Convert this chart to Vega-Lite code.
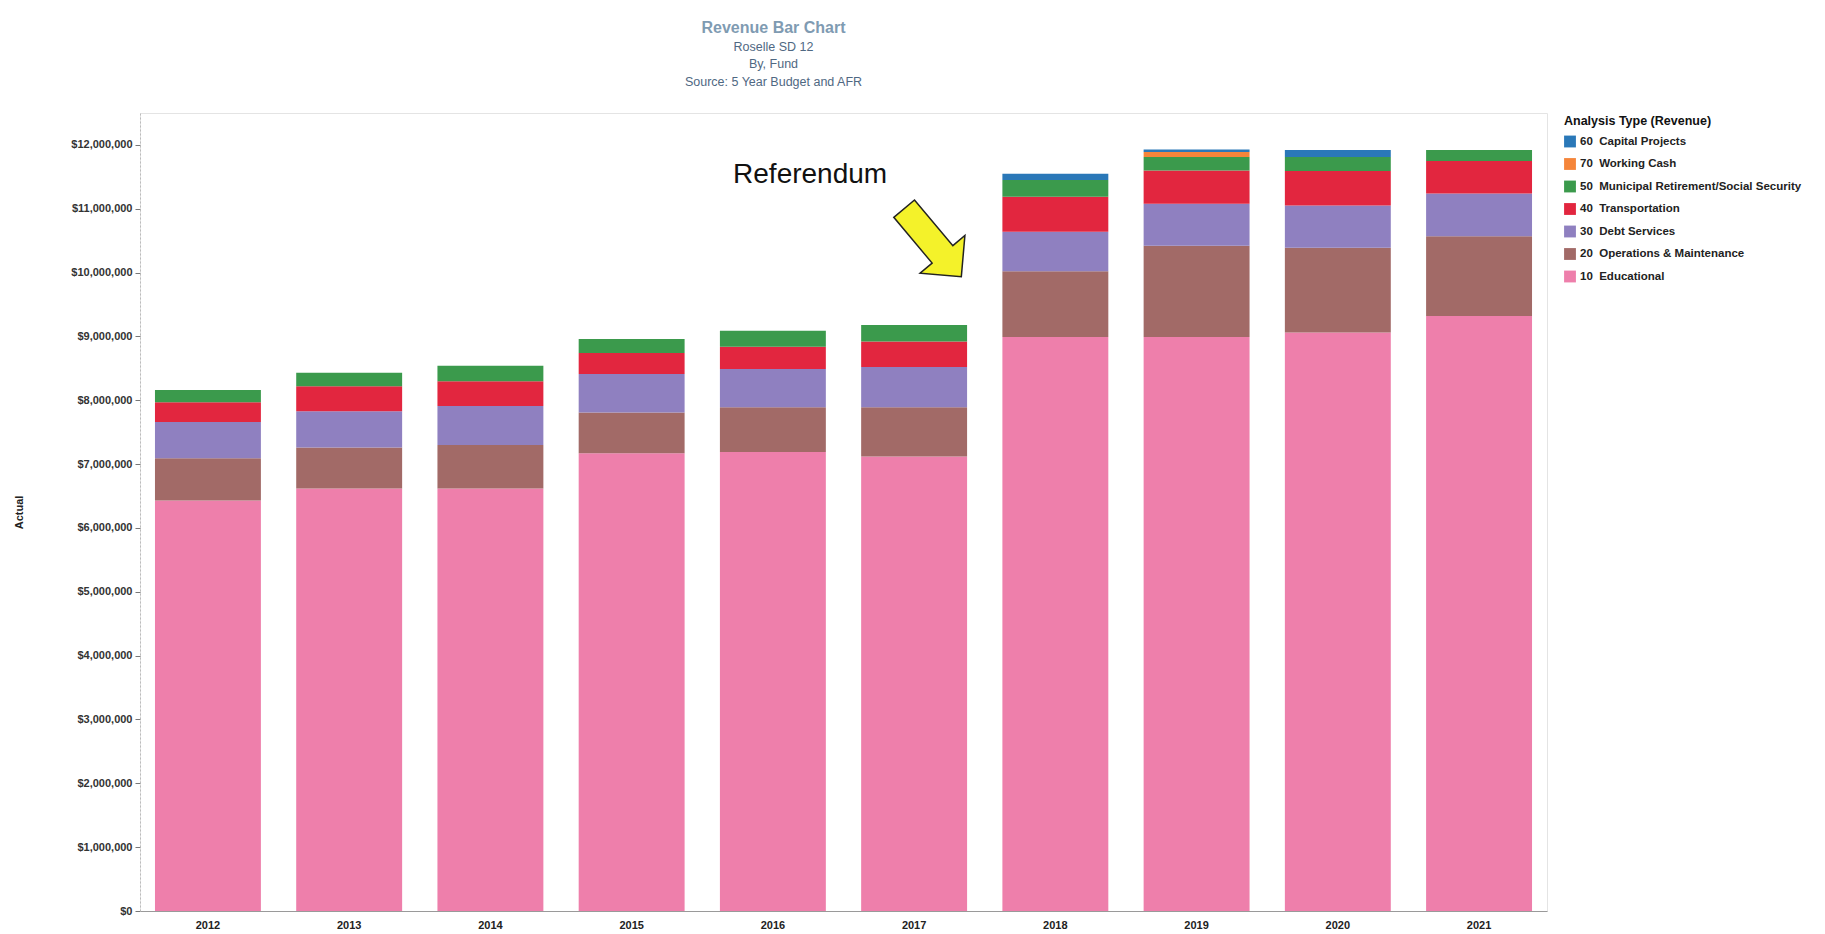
{
  "$schema": "https://vega.github.io/schema/vega-lite/v6.json",
  "autosize": {"type": "none"},
  "width": 1407,
  "height": 798,
  "padding": {"left": 140, "top": 113, "right": 278, "bottom": 23},
  "background": "white",
  "title": {
    "text": "Revenue Bar Chart",
    "subtitle": ["Roselle SD 12", "By, Fund", "Source: 5 Year Budget and AFR"],
    "anchor": "middle",
    "frame": "group",
    "dx": -70,
    "offset": 25,
    "font": "Liberation Sans",
    "fontSize": 16,
    "fontWeight": "bold",
    "color": "#7f9bb2",
    "subtitleFont": "Liberation Sans",
    "subtitleFontSize": 12.5,
    "subtitleColor": "#4f6882",
    "subtitleLineHeight": 17.5,
    "subtitlePadding": 5
  },
  "config": {
    "view": {"stroke": "#e4e4e4"},
    "font": "Liberation Sans"
  },
  "datasets": {
    "revenue": [
      {"year": "2012", "code": 10, "fund": "10\u00a0\u00a0Educational", "value": 6430000},
      {"year": "2012", "code": 20, "fund": "20\u00a0\u00a0Operations & Maintenance", "value": 660000},
      {"year": "2012", "code": 30, "fund": "30\u00a0\u00a0Debt Services", "value": 570000},
      {"year": "2012", "code": 40, "fund": "40\u00a0\u00a0Transportation", "value": 310000},
      {"year": "2012", "code": 50, "fund": "50\u00a0\u00a0Municipal Retirement/Social Security", "value": 190000},
      {"year": "2013", "code": 10, "fund": "10\u00a0\u00a0Educational", "value": 6620000},
      {"year": "2013", "code": 20, "fund": "20\u00a0\u00a0Operations & Maintenance", "value": 640000},
      {"year": "2013", "code": 30, "fund": "30\u00a0\u00a0Debt Services", "value": 570000},
      {"year": "2013", "code": 40, "fund": "40\u00a0\u00a0Transportation", "value": 390000},
      {"year": "2013", "code": 50, "fund": "50\u00a0\u00a0Municipal Retirement/Social Security", "value": 210000},
      {"year": "2014", "code": 10, "fund": "10\u00a0\u00a0Educational", "value": 6620000},
      {"year": "2014", "code": 20, "fund": "20\u00a0\u00a0Operations & Maintenance", "value": 680000},
      {"year": "2014", "code": 30, "fund": "30\u00a0\u00a0Debt Services", "value": 610000},
      {"year": "2014", "code": 40, "fund": "40\u00a0\u00a0Transportation", "value": 390000},
      {"year": "2014", "code": 50, "fund": "50\u00a0\u00a0Municipal Retirement/Social Security", "value": 240000},
      {"year": "2015", "code": 10, "fund": "10\u00a0\u00a0Educational", "value": 7170000},
      {"year": "2015", "code": 20, "fund": "20\u00a0\u00a0Operations & Maintenance", "value": 640000},
      {"year": "2015", "code": 30, "fund": "30\u00a0\u00a0Debt Services", "value": 600000},
      {"year": "2015", "code": 40, "fund": "40\u00a0\u00a0Transportation", "value": 330000},
      {"year": "2015", "code": 50, "fund": "50\u00a0\u00a0Municipal Retirement/Social Security", "value": 220000},
      {"year": "2016", "code": 10, "fund": "10\u00a0\u00a0Educational", "value": 7190000},
      {"year": "2016", "code": 20, "fund": "20\u00a0\u00a0Operations & Maintenance", "value": 700000},
      {"year": "2016", "code": 30, "fund": "30\u00a0\u00a0Debt Services", "value": 600000},
      {"year": "2016", "code": 40, "fund": "40\u00a0\u00a0Transportation", "value": 350000},
      {"year": "2016", "code": 50, "fund": "50\u00a0\u00a0Municipal Retirement/Social Security", "value": 250000},
      {"year": "2017", "code": 10, "fund": "10\u00a0\u00a0Educational", "value": 7120000},
      {"year": "2017", "code": 20, "fund": "20\u00a0\u00a0Operations & Maintenance", "value": 770000},
      {"year": "2017", "code": 30, "fund": "30\u00a0\u00a0Debt Services", "value": 630000},
      {"year": "2017", "code": 40, "fund": "40\u00a0\u00a0Transportation", "value": 400000},
      {"year": "2017", "code": 50, "fund": "50\u00a0\u00a0Municipal Retirement/Social Security", "value": 260000},
      {"year": "2018", "code": 10, "fund": "10\u00a0\u00a0Educational", "value": 8990000},
      {"year": "2018", "code": 20, "fund": "20\u00a0\u00a0Operations & Maintenance", "value": 1030000},
      {"year": "2018", "code": 30, "fund": "30\u00a0\u00a0Debt Services", "value": 620000},
      {"year": "2018", "code": 40, "fund": "40\u00a0\u00a0Transportation", "value": 550000},
      {"year": "2018", "code": 50, "fund": "50\u00a0\u00a0Municipal Retirement/Social Security", "value": 260000},
      {"year": "2018", "code": 60, "fund": "60\u00a0\u00a0Capital Projects", "value": 100000},
      {"year": "2019", "code": 10, "fund": "10\u00a0\u00a0Educational", "value": 8990000},
      {"year": "2019", "code": 20, "fund": "20\u00a0\u00a0Operations & Maintenance", "value": 1430000},
      {"year": "2019", "code": 30, "fund": "30\u00a0\u00a0Debt Services", "value": 660000},
      {"year": "2019", "code": 40, "fund": "40\u00a0\u00a0Transportation", "value": 520000},
      {"year": "2019", "code": 50, "fund": "50\u00a0\u00a0Municipal Retirement/Social Security", "value": 210000},
      {"year": "2019", "code": 55, "fund": "70\u00a0\u00a0Working Cash", "value": 80000},
      {"year": "2019", "code": 60, "fund": "60\u00a0\u00a0Capital Projects", "value": 40000},
      {"year": "2020", "code": 10, "fund": "10\u00a0\u00a0Educational", "value": 9060000},
      {"year": "2020", "code": 20, "fund": "20\u00a0\u00a0Operations & Maintenance", "value": 1330000},
      {"year": "2020", "code": 30, "fund": "30\u00a0\u00a0Debt Services", "value": 660000},
      {"year": "2020", "code": 40, "fund": "40\u00a0\u00a0Transportation", "value": 540000},
      {"year": "2020", "code": 50, "fund": "50\u00a0\u00a0Municipal Retirement/Social Security", "value": 220000},
      {"year": "2020", "code": 60, "fund": "60\u00a0\u00a0Capital Projects", "value": 110000},
      {"year": "2021", "code": 10, "fund": "10\u00a0\u00a0Educational", "value": 9320000},
      {"year": "2021", "code": 20, "fund": "20\u00a0\u00a0Operations & Maintenance", "value": 1250000},
      {"year": "2021", "code": 30, "fund": "30\u00a0\u00a0Debt Services", "value": 670000},
      {"year": "2021", "code": 40, "fund": "40\u00a0\u00a0Transportation", "value": 510000},
      {"year": "2021", "code": 50, "fund": "50\u00a0\u00a0Municipal Retirement/Social Security", "value": 170000}
    ],
    "notes": [
      {"year": "2017", "value": 11530000, "label": "Referendum", "kind": "text"},
      {"year": "2017", "value": 10770000, "label": "\u27a1", "kind": "arrow"}
    ]
  },
  "encoding": {
    "x": {
      "field": "year",
      "type": "ordinal",
      "scale": {"paddingInner": 0.25, "paddingOuter": 0.106},
      "axis": {
        "title": null,
        "labelAngle": 0,
        "labelFont": "Liberation Sans",
        "labelFontSize": 11,
        "labelFontWeight": "bold",
        "labelColor": "#222",
        "ticks": false,
        "labelPadding": 8,
        "domainColor": "#9a9a9a"
      }
    },
    "y": {
      "field": "value",
      "type": "quantitative",
      "scale": {"domain": [0, 12500000], "nice": false},
      "axis": {
        "title": "Actual",
        "titleFont": "Liberation Sans",
        "titleFontSize": 11,
        "titleFontWeight": "bold",
        "titleColor": "#222",
        "titlePadding": 46,
        "values": [0, 1000000, 2000000, 3000000, 4000000, 5000000, 6000000, 7000000, 8000000, 9000000, 10000000, 11000000, 12000000],
        "format": "$,.0f",
        "labelFont": "Liberation Sans",
        "labelFontSize": 11,
        "labelFontWeight": "bold",
        "labelColor": "#333",
        "tickSize": 5,
        "tickColor": "#777",
        "labelPadding": 3,
        "domainColor": "#bbbbbb",
        "domainDash": [2, 2],
        "grid": false
      }
    }
  },
  "layer": [
    {
      "data": {"name": "revenue"},
      "mark": {"type": "bar"},
      "encoding": {
        "y": {"field": "value", "type": "quantitative", "stack": "zero"},
        "color": {
          "field": "fund",
          "type": "nominal",
          "scale": {
            "domain": [
              "60\u00a0\u00a0Capital Projects",
              "70\u00a0\u00a0Working Cash",
              "50\u00a0\u00a0Municipal Retirement/Social Security",
              "40\u00a0\u00a0Transportation",
              "30\u00a0\u00a0Debt Services",
              "20\u00a0\u00a0Operations & Maintenance",
              "10\u00a0\u00a0Educational"
            ],
            "range": ["#2a78b8", "#f5853a", "#3b9a4c", "#e2263f", "#8f80c0", "#a26a67", "#ee7fab"]
          },
          "legend": {
            "title": "Analysis Type (Revenue)",
            "orient": "right",
            "offset": 15,
            "padding": 2,
            "titleFont": "Liberation Sans",
            "titleFontSize": 12.5,
            "titleFontWeight": "bold",
            "titleColor": "#111",
            "titlePadding": 8,
            "labelFont": "Liberation Sans",
            "labelFontSize": 11.5,
            "labelFontWeight": "bold",
            "labelColor": "#222",
            "symbolType": "square",
            "symbolSize": 140,
            "symbolStrokeWidth": 0,
            "rowPadding": 10.5,
            "labelLimit": 300
          }
        },
        "order": {"field": "code", "type": "quantitative", "sort": "ascending"}
      }
    },
    {
      "data": {"name": "notes"},
      "transform": [{"filter": "datum.kind == 'text'"}],
      "mark": {"type": "text", "font": "Liberation Sans", "fontSize": 28, "color": "#111", "dx": -104, "baseline": "middle", "align": "center"},
      "encoding": {"text": {"field": "label"}}
    },
    {
      "data": {"name": "notes"},
      "transform": [{"filter": "datum.kind == 'arrow'"}],
      "mark": {"type": "text", "font": "DejaVu Sans", "fontSize": 118, "fill": "#f4f22a", "stroke": "#222", "strokeWidth": 1.5, "angle": 50, "dx": 25, "baseline": "middle", "align": "center"},
      "encoding": {"text": {"field": "label"}}
    }
  ]
}
